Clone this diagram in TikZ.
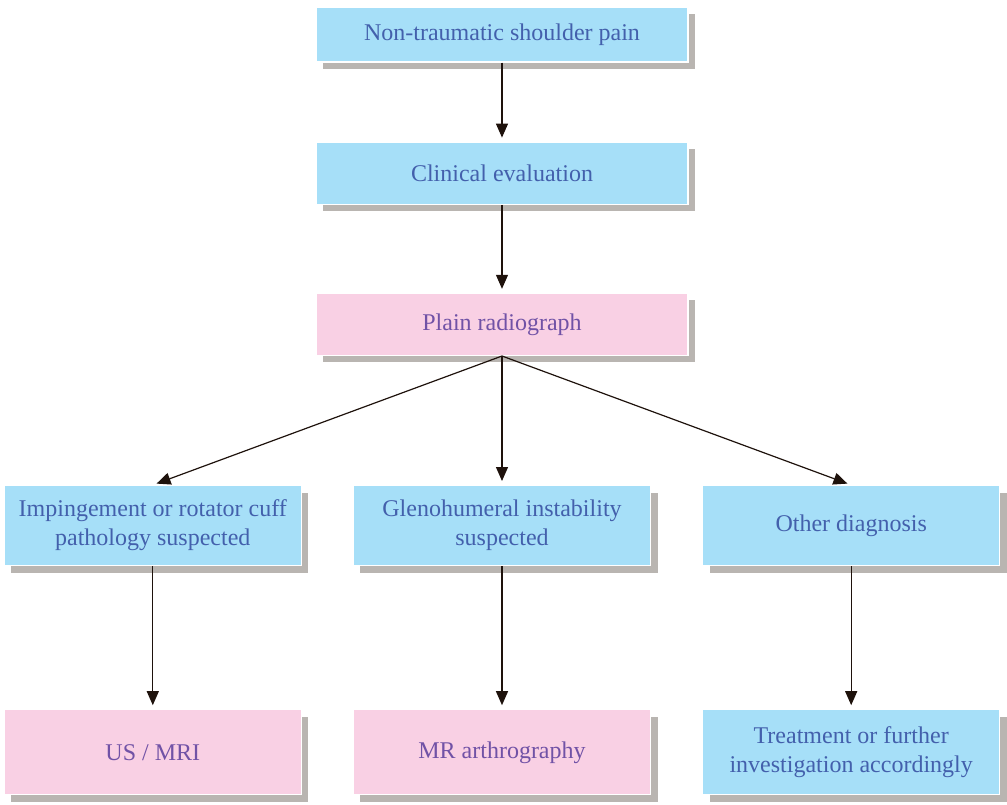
\documentclass[tikz,border=0pt]{standalone}
\usepackage{fontspec}
\setmainfont{Liberation Serif}
\usepackage{tikz}
\usetikzlibrary{arrows.meta,positioning,shadows}
\definecolor{boxblue}{HTML}{A6DFF8}
\definecolor{boxpink}{HTML}{F9D0E4}
\definecolor{txtblue}{HTML}{4360AC}
\definecolor{txtpurple}{HTML}{7152A6}
\definecolor{shadowgrey}{HTML}{B9B5B1}
\definecolor{arrowdark}{HTML}{1E120C}

\begin{document}
\begin{tikzpicture}[% styles shared by all boxes
			every node/.style={
				align=center,  		% "\\" breaks the line
				font=\fontsize{12}{14.5}\selectfont,
				rectangle,draw=white,line width=0.6pt,
				drop shadow={shadow xshift=3.5pt,shadow yshift=-3.5pt,fill=shadowgrey,opacity=1}
			},
			bluebox/.style={fill=boxblue,text=txtblue},
			pinkbox/.style={fill=boxpink,text=txtpurple},
			wide/.style={minimum width=186pt,minimum height=31pt},
			narrow/.style={minimum width=148.5pt,minimum height=40pt},
			every edge/.style={draw=arrowdark,line width=0.6pt,-{Triangle[length=7pt,width=6pt]},shorten >=2pt}
		]
		\node[bluebox,wide,minimum height=27.5pt](R1){Non-traumatic shoulder pain};
		\node[bluebox,wide](R2)[below=39.5pt of R1]{Clinical evaluation};
		\node[pinkbox,wide](R3)[below=44pt of R2]{Plain radiograph};
		\node[bluebox,narrow](R5)[below=64.5pt of R3]{Glenohumeral instability \\ suspected};
		\node[bluebox,narrow](R4)[left=25.5pt of R5]{Impingement or rotator cuff \\ pathology suspected};
		\node[bluebox,narrow](R6)[right=25.5pt of R5]{Other diagnosis};
		\node[pinkbox,narrow,minimum height=42.5pt](R7)[below=71.5pt of R4]{US / MRI};
		\node[pinkbox,narrow,minimum height=42.5pt](R8)[below=71.5pt of R5]{MR arthrography};
		\node[bluebox,narrow,minimum height=42.5pt](R9)[below=71.5pt of R6]{Treatment or further \\ investigation accordingly};
		\path
		(R1)edge (R2)
		(R2)edge (R3)
		(R3.south)edge (R4.north)
		(R3.south)edge (R5.north)
		(R3.south)edge (R6.north)
		(R4)edge (R7)
		(R5)edge (R8)
		(R6)edge (R9)
		;
		\useasboundingbox (R1.center) ++(-251pt,17.25pt) rectangle ++(503.5pt,-402pt);
	\end{tikzpicture}
\end{document}
